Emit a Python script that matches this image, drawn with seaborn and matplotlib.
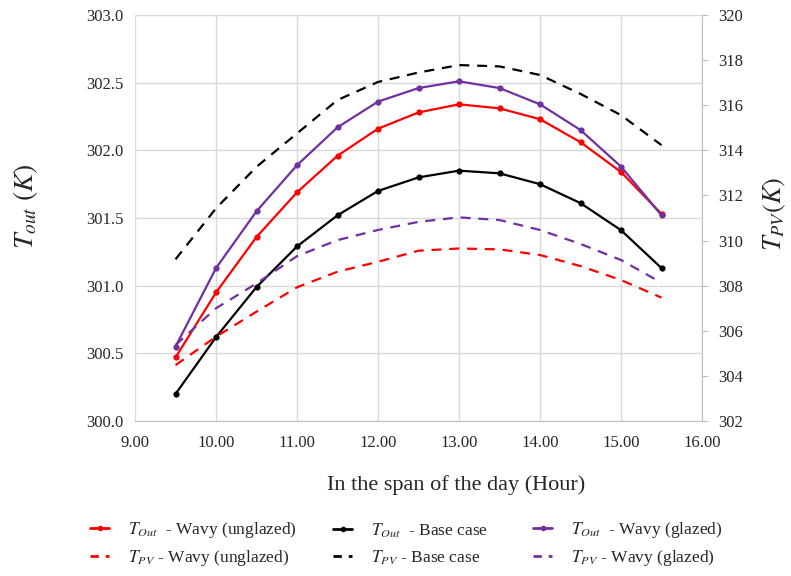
import numpy as np
import pandas as pd
import matplotlib
matplotlib.use("Agg")
import matplotlib.pyplot as plt
import seaborn as sns

# Data
hours = [9.5, 10.0, 10.5, 11.0, 11.5, 12.0, 12.5, 13.0, 13.5, 14.0, 14.5, 15.0, 15.5]

# Outlet temperature (left axis, K)
tout_unglazed = [300.47, 300.95, 301.36, 301.69, 301.96, 302.16, 302.28, 302.34, 302.31, 302.23, 302.06, 301.84, 301.53]
tout_base = [300.20, 300.62, 300.99, 301.29, 301.52, 301.70, 301.80, 301.85, 301.83, 301.75, 301.61, 301.41, 301.13]
tout_glazed = [300.55, 301.13, 301.55, 301.89, 302.17, 302.36, 302.46, 302.51, 302.46, 302.34, 302.15, 301.88, 301.52]

# PV temperature (right axis, K)
tpv_unglazed = [304.48, 305.74, 306.85, 307.93, 308.62, 309.06, 309.55, 309.65, 309.61, 309.36, 308.87, 308.25, 307.47]
tpv_base = [309.17, 311.43, 313.27, 314.75, 316.23, 317.03, 317.45, 317.78, 317.72, 317.34, 316.50, 315.56, 314.23]
tpv_glazed = [305.37, 307.00, 308.10, 309.31, 310.02, 310.47, 310.83, 311.03, 310.91, 310.47, 309.85, 309.14, 308.13]

labels_out = [r"$T_{Out}$  - Wavy (unglazed)", r"$T_{Out}$  - Base case", r"$T_{Out}$  - Wavy (glazed)"]
labels_pv = [r"$T_{PV}$ - Wavy (unglazed)", r"$T_{PV}$ - Base case", r"$T_{PV}$ - Wavy (glazed)"]
colors = ["#ff0000", "#000000", "#7030a0"]

sns.set_style("white")
plt.rcParams["font.family"] = ["Liberation Serif", "DejaVu Serif"]
plt.rcParams["mathtext.fontset"] = "stix"

fig = plt.figure(figsize=(7.91, 5.76), dpi=100)
ax = fig.add_axes([0.1707, 0.269, 0.7168, 0.705])
ax2 = ax.twinx()

legend_x = [90, 333, 533]
for tout, tpv, col, lo, lp, lx in zip([tout_unglazed, tout_base, tout_glazed],
                                      [tpv_unglazed, tpv_base, tpv_glazed],
                                      colors, labels_out, labels_pv, legend_x):
    sns.lineplot(x=hours, y=tout, ax=ax, color=col, lw=1.6, marker="o",
                 markersize=4.5, markeredgewidth=0, legend=False)
    sns.lineplot(x=hours, y=tpv, ax=ax2, color=col, lw=1.6, legend=False)
    ax2.lines[-1].set_dashes([4.5, 3.5])

    # one legend column per colour, placed like the original
    h1 = plt.Line2D([], [], color=col, lw=2, marker="o", markersize=4,
                    markeredgewidth=0, label=lo)
    h2 = plt.Line2D([], [], color=col, lw=2, dashes=[3, 2.5], label=lp)
    fig.legend(handles=[h1, h2], loc="center left",
               bbox_to_anchor=(lx / 791, 0.0556), frameon=False,
               fontsize=12.5, handlelength=1.1, handletextpad=1.1,
               labelspacing=0.5, borderpad=0, borderaxespad=0)

ax.set_xlim(9, 16)
ax.set_ylim(300, 303)
ax.set_xticks(np.arange(9, 16.5, 1))
ax.set_xticklabels([f"{v:.2f}" for v in np.arange(9, 16.5, 1)])
ax.set_yticks(np.arange(300, 303.01, 0.5))
ax.set_yticklabels([f"{v:.1f}" for v in np.arange(300, 303.01, 0.5)])
ax2.set_ylim(302, 320)
ax2.set_yticks(np.arange(302, 321, 2))

ax.grid(True, color="#d9d9d9", lw=1)
ax.set_axisbelow(True)
for a in (ax, ax2):
    for s in a.spines.values():
        s.set_visible(False)
ax.spines["bottom"].set_visible(True)
ax.spines["bottom"].set_color("#bfbfbf")
ax2.spines["right"].set_visible(True)
ax2.spines["right"].set_color("#bfbfbf")

ax.tick_params(axis="both", length=0, labelsize=12, pad=8)
ax2.tick_params(axis="y", length=4, color="#bfbfbf", labelsize=12, pad=8, direction="out")
ax.tick_params(axis="x", pad=10)

ax.set_xlabel("In the span of the day (Hour)", fontsize=16)
ax.xaxis.label.set_va("center")
ax.xaxis.set_label_coords(0.567, -0.158)
ax.set_ylabel(r"$T_{out}\ (K)$", fontsize=20)
ax.yaxis.label.set_va("center")
ax.yaxis.set_label_coords(-0.194, 0.53)
ax2.set_ylabel(r"$T_{PV}(K)$", fontsize=19)
ax2.yaxis.label.set_va("center")
ax2.yaxis.set_label_coords(1.129, 0.51)

fig.savefig("out.png", dpi=100)
